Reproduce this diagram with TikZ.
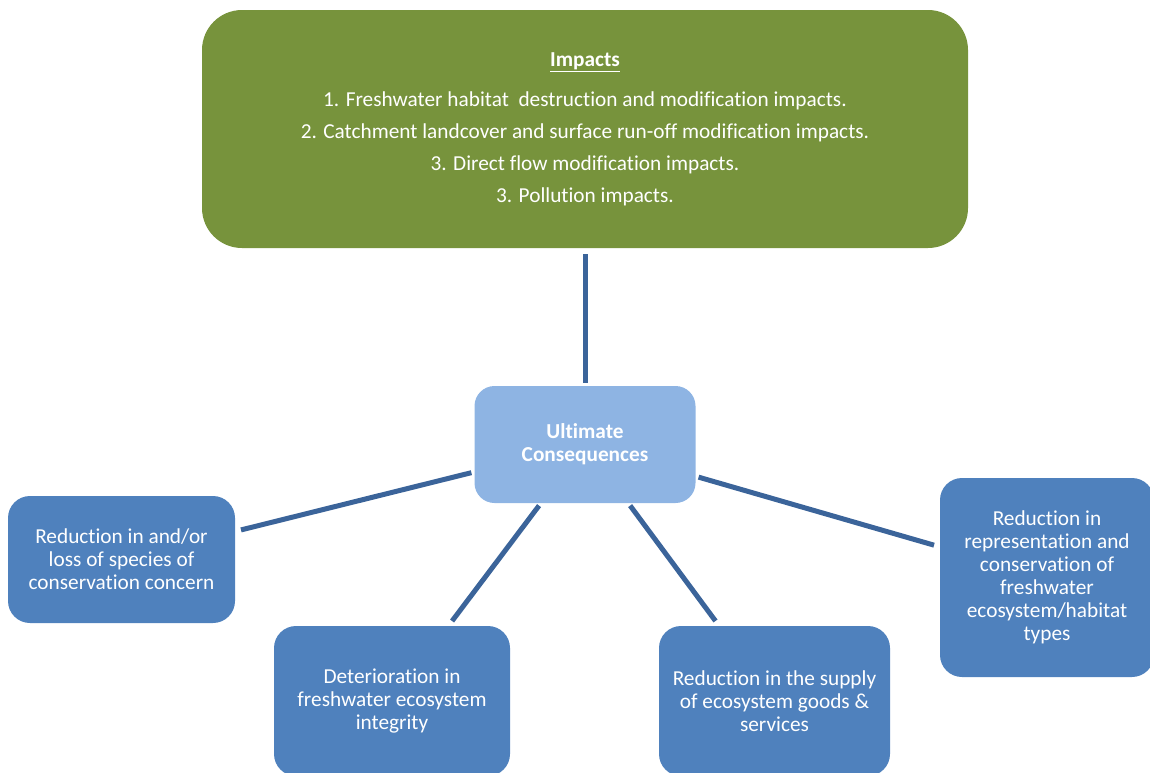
\documentclass[tikz,border=0pt]{standalone}
\usepackage{fontspec}
\setmainfont{Carlito}[RawFeature=-liga]
\definecolor{impgreen}{HTML}{77933C}
\definecolor{ucblue}{HTML}{8EB4E3}
\definecolor{boxblue}{HTML}{4F81BD}
\definecolor{linkblue}{HTML}{3B649A}
\begin{document}
\begin{tikzpicture}[x=1pt,y=-1pt,
  box/.style={draw=none,fill=boxblue,rounded corners=22pt,inner sep=0pt,align=center,
    text=white,font=\fontsize{21.3}{23}\selectfont},
  link/.style={draw=linkblue,line width=5pt,shorten <=3pt,shorten >=6pt}]
\useasboundingbox (0,0) rectangle (1150,772);
\clip (0,0) rectangle (1150,772);
\node[box,fill=impgreen,rounded corners=40pt,minimum width=766pt,minimum height=238pt,
  font=\fontsize{21.3}{32}\selectfont] (top) at (585,129)
  {\textbf{\underline{Impacts}}\\[8pt]
   1. Freshwater habitat~ destruction and modification impacts.\\
   2. Catchment landcover and surface run-off modification impacts.\\
   3. Direct flow modification impacts.\\
   3. Pollution impacts.};
\node[box,fill=ucblue,rounded corners=20pt,minimum width=221pt,minimum height=117pt,
  font=\fontsize{21.3}{23}\selectfont\bfseries] (uc) at (585,444.5)
  {Ultimate\\Consequences};
\node[box,minimum width=227pt,minimum height=127pt] (species) at (121.5,559.5)
  {Reduction in and/or\\loss of species of\\conservation concern};
\node[box,minimum width=236pt,minimum height=150pt] (integrity) at (392,701)
  {Deterioration in\\freshwater ecosystem\\integrity};
\node[box,minimum width=231pt,minimum height=150pt] (supply) at (774.5,701)
  {Reduction in the supply\\of ecosystem goods \&\\services};
\node[box,minimum width=214pt,minimum height=199pt] (repr) at (1047,577.5)
  {Reduction in\\representation and\\conservation of\\freshwater\\ecosystem/habitat\\types};
\draw[link] (uc) -- (top);
\draw[link] (uc) -- (species);
\draw[link] (uc) -- (integrity);
\draw[link] (uc) -- (supply);
\draw[link] (uc) -- (repr);
\end{tikzpicture}
\end{document}
